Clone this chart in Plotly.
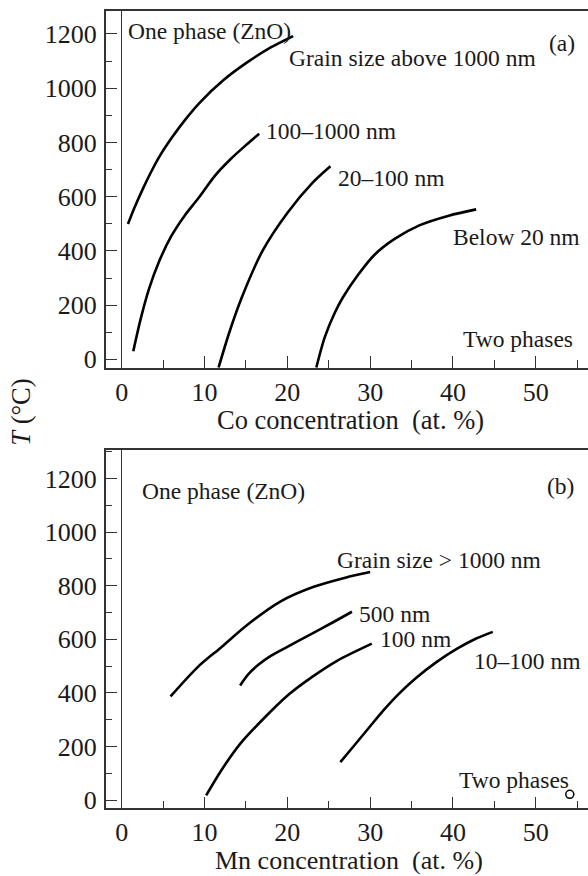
import plotly.graph_objects as go
from plotly.subplots import make_subplots

# ---- Data: panel (a) Co-doped ZnO ----
co_above1000_x = [0.76, 1.5, 2.5, 3.5, 4.5, 6.0, 7.7, 9.46, 12.3, 15.1, 18.0, 20.7]
co_above1000_y = [499, 556, 625, 688, 745, 815, 885, 948, 1030, 1094, 1150, 1192]
co_100_1000_x = [1.4, 2.3, 3.3, 4.5, 6.0, 7.6, 9.25, 11.2, 13.1, 15.0, 16.6]
co_100_1000_y = [30, 150, 260, 360, 455, 530, 594, 675, 737, 790, 832]
co_20_100_x = [11.7, 13.0, 14.5, 17.0, 20.0, 23.0, 25.2]
co_20_100_y = [-30, 100, 228, 400, 540, 650, 712]
co_below20_x = [23.5, 24.5, 25.7, 26.7, 28.5, 30.5, 33.0, 36.0, 39.5, 42.8]
co_below20_y = [-30, 80, 170, 228, 310, 385, 445, 495, 530, 553]

# ---- Data: panel (b) Mn-doped ZnO ----
mn_above1000_x = [5.9, 9.3, 12.0, 15.0, 19.1, 23.1, 27.0, 30.0]
mn_above1000_y = [387, 500, 570, 650, 740, 795, 830, 851]
mn_500_x = [14.3, 15.3, 16.5, 18.0, 20.0, 22.7, 25.3, 27.8]
mn_500_y = [428, 470, 505, 538, 572, 617, 660, 703]
mn_100_x = [10.2, 12.0, 14.3, 17.0, 20.2, 23.0, 26.0, 30.2]
mn_100_y = [18, 110, 210, 300, 395, 460, 520, 584]
mn_10_100_x = [26.4, 28.1, 29.9, 31.6, 33.4, 35.5, 38.0, 40.5, 42.8, 44.8]
mn_10_100_y = [142, 205, 272, 335, 395, 455, 515, 565, 603, 628]
mn_point_x = [54.1]
mn_point_y = [22]

x_ticks = [0, 10, 20, 30, 40, 50]
y_ticks = [0, 200, 400, 600, 800, 1000, 1200]

W, H = 588, 876
FONT = "Liberation Serif"
INK = "#1a1a1a"
AX = "#333333"

fig = make_subplots(rows=2, cols=1)

line = dict(color="black", width=2.6, shape="spline", smoothing=0.8)
for xs, ys in [(co_above1000_x, co_above1000_y), (co_100_1000_x, co_100_1000_y),
               (co_20_100_x, co_20_100_y), (co_below20_x, co_below20_y)]:
    fig.add_trace(go.Scatter(x=xs, y=ys, mode="lines", line=line,
                             showlegend=False, hoverinfo="skip"), row=1, col=1)
for xs, ys in [(mn_above1000_x, mn_above1000_y), (mn_500_x, mn_500_y),
               (mn_100_x, mn_100_y), (mn_10_100_x, mn_10_100_y)]:
    fig.add_trace(go.Scatter(x=xs, y=ys, mode="lines", line=line,
                             showlegend=False, hoverinfo="skip"), row=2, col=1)
fig.add_trace(go.Scatter(x=mn_point_x, y=mn_point_y, mode="markers",
                         marker=dict(symbol="circle-open", size=8, color="black",
                                     line=dict(width=1.5)),
                         showlegend=False, hoverinfo="skip"), row=2, col=1)

xdom = [105.7 / W, 1.0]
top_dom = [1 - 371 / H, 1 - 10.7 / H]
bot_dom = [1 - 815 / H, 1 - 454 / H]

xcommon = dict(range=[-1.93, 56.3], tickvals=x_ticks, ticks="inside", ticklen=12,
               tickwidth=1.3, tickcolor=AX, showline=True, linecolor=AX, linewidth=1.5,
               mirror=True, showgrid=False, zeroline=True, zerolinecolor=AX,
               zerolinewidth=1.3, domain=xdom,
               minor=dict(dtick=5, tick0=0, ticks="inside", ticklen=8, tickwidth=1.3,
                          tickcolor=AX, showgrid=False),
               tickfont=dict(family=FONT, size=26, color=INK), ticklabelstandoff=0)
ycommon = dict(tickvals=y_ticks, ticks="inside", ticklen=12, tickwidth=1.3,
               tickcolor=AX, showline=True, linecolor=AX, linewidth=1.5, mirror=False,
               showgrid=False, zeroline=False,
               minor=dict(dtick=100, tick0=0, ticks="inside", ticklen=7, tickwidth=1.3,
                          tickcolor=AX, showgrid=False),
               tickfont=dict(family=FONT, size=26, color=INK), ticklabelstandoff=2)

fig.update_layout(
    xaxis=dict(xcommon, anchor="y"),
    yaxis=dict(ycommon, range=[-32, 1286], domain=top_dom, anchor="x"),
    xaxis2=dict(xcommon, anchor="y2"),
    yaxis2=dict(ycommon, range=[-31, 1305], domain=bot_dom, anchor="x2"),
)

anns = []
def ann(text, px, py, xanchor="left", size=23.5, angle=0, yanchor="middle"):
    anns.append(dict(text=text, x=px / W, y=1 - py / H, xref="paper", yref="paper",
                     xanchor=xanchor, yanchor=yanchor, showarrow=False, textangle=angle,
                     font=dict(family=FONT, size=size, color=INK)))

# panel (a)
ann("One phase (ZnO)", 126, 31)
ann("Grain size above 1000 nm", 286.7, 58)
ann("(a)", 546.7, 43)
ann("100–1000 nm", 398.3, 132, xanchor="right")
ann("20–100 nm", 336, 179)
ann("Below 20 nm", 451, 239)
ann("Two phases", 460.7, 342)
ann("Co concentration\u00a0 (at. %)", 350, 423, xanchor="center", size=26.5)
# panel (b)
ann("One phase (ZnO)", 140, 495)
ann("(b)", 545, 490)
ann("Grain size &gt; 1000 nm", 335, 565)
ann("500 nm", 356.7, 619)
ann("100 nm", 378, 644)
ann("10–100 nm", 472, 666)
ann("Two phases", 456.7, 786)
ann("Mn concentration\u00a0 (at. %)", 349, 867, xanchor="center", size=26)
# shared y title
ann("<i>T</i> (°C)", 21, 416, xanchor="center", size=26.5, angle=-90)

fig.update_layout(width=W, height=H, margin=dict(l=0, r=0, t=0, b=0),
                  paper_bgcolor="white", plot_bgcolor="white", annotations=anns)

fig.write_html("out.html", config={"displayModeBar": False},
               post_script="document.body.style.margin='0';"
                           "document.body.style.overflow='hidden';")
